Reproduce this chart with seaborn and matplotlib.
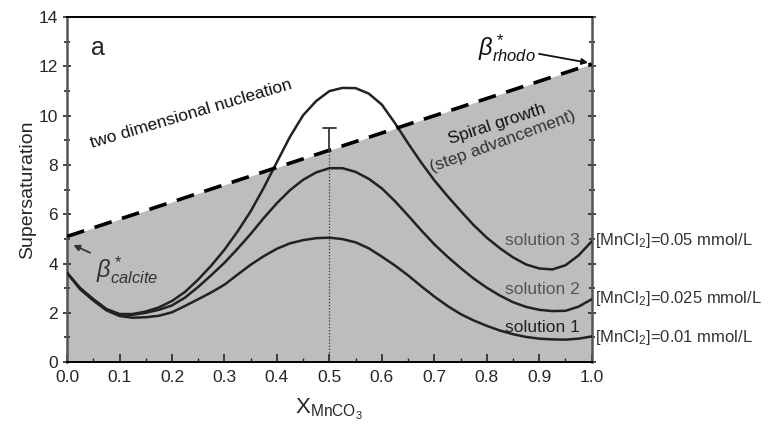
import numpy as np
import pandas as pd
import seaborn as sns
import matplotlib
matplotlib.use("Agg")
import matplotlib.pyplot as plt

# mole fraction of MnCO3 in the solid solution (0 to 1, step 0.025)
x_mnco3 = [round(0.025 * i, 3) for i in range(41)]

# supersaturation curves
solution_1 = [3.62, 2.95, 2.50, 2.10, 1.87, 1.80, 1.82, 1.88, 2.02, 2.28,
              2.55, 2.83, 3.14, 3.55, 3.95, 4.30, 4.60, 4.82, 4.95, 5.03,
              5.05, 4.99, 4.86, 4.62, 4.28, 3.92, 3.52, 3.08, 2.66, 2.28,
              1.95, 1.69, 1.47, 1.28, 1.13, 1.02, 0.95, 0.92, 0.91, 0.95,
              1.04]
solution_2 = [3.62, 3.00, 2.55, 2.15, 1.93, 1.92, 2.00, 2.12, 2.30, 2.62,
              3.05, 3.53, 4.03, 4.60, 5.20, 5.85, 6.45, 6.98, 7.40, 7.70,
              7.87, 7.87, 7.72, 7.44, 7.05, 6.53, 5.95, 5.35, 4.78, 4.28,
              3.82, 3.39, 3.02, 2.70, 2.43, 2.24, 2.12, 2.07, 2.08, 2.25,
              2.55]
solution_3 = [3.62, 3.00, 2.55, 2.15, 1.95, 1.95, 2.05, 2.22, 2.48, 2.85,
              3.35, 3.92, 4.56, 5.30, 6.12, 7.08, 8.12, 9.15, 10.02, 10.60,
              11.00, 11.13, 11.12, 10.90, 10.45, 9.70, 8.88, 8.10, 7.38, 6.74,
              6.14, 5.56, 5.05, 4.62, 4.25, 3.96, 3.80, 3.76, 3.93, 4.33,
              4.90]

solution_names = ["solution 1", "solution 2", "solution 3"]
mncl2_labels = ["[MnCl$_2$]=0.01 mmol/L", "[MnCl$_2$]=0.025 mmol/L",
                "[MnCl$_2$]=0.05 mmol/L"]

# critical supersaturation line: calcite end -> rhodochrosite end
beta_x = [0.0, 1.0]
beta_y = [5.1, 12.1]

# error bar on the critical value at x = 0.5
err_x = 0.5
err_lo, err_hi = 8.55, 9.5

df = pd.DataFrame({
    "x": x_mnco3 * 3,
    "S": solution_1 + solution_2 + solution_3,
    "solution": np.repeat(solution_names, len(x_mnco3)),
})

sns.set_style("ticks")
plt.rcParams["font.family"] = ["Liberation Sans", "DejaVu Sans"]
plt.rcParams["mathtext.fontset"] = "custom"
plt.rcParams["mathtext.rm"] = "Liberation Sans"
plt.rcParams["mathtext.it"] = "Liberation Sans:italic"

fig = plt.figure(figsize=(7.75, 4.3), dpi=100)
ax = fig.add_axes([0.0865, 0.158, 0.677, 0.802])

# shaded spiral-growth region below the critical line
ax.fill_between(beta_x, 0, beta_y, color="#bdbdbd", lw=0, zorder=0)

sns.lineplot(data=df, x="x", y="S", hue="solution", units="solution",
             estimator=None, palette=["#222222"] * 3, lw=1.8, legend=False,
             ax=ax, zorder=3)

sns.lineplot(x=beta_x, y=beta_y, color="black", lw=2.6, ax=ax, zorder=4)
ax.lines[-1].set_dashes([5, 3])

# dotted vertical line and error bar at x = 0.5
ax.plot([err_x, err_x], [0, err_lo], color="#333333", lw=0.9,
        ls=(0, (1, 1.5)), zorder=2)
ax.plot([err_x, err_x], [err_lo, err_hi], color="#333333", lw=1.3, zorder=4)
ax.plot([err_x - 0.012, err_x + 0.012], [err_hi, err_hi], color="#333333",
        lw=1.3, zorder=4)

ax.set_xlim(0, 1.0)
ax.set_ylim(0, 14)
ax.set_xticks(np.arange(0, 1.01, 0.1))
ax.set_xticklabels([f"{v:.1f}" for v in np.arange(0, 1.01, 0.1)])
ax.set_xticks(np.arange(0.05, 1.0, 0.1), minor=True)
ax.set_yticks(np.arange(0, 15, 2))
ax.set_yticks(np.arange(1, 14, 2), minor=True)
ax.tick_params(axis="x", which="major", direction="in", length=6, width=1.2,
               labelsize=12.5, pad=6)
ax.tick_params(axis="x", which="minor", direction="in", length=3, width=1.0)
ax.tick_params(axis="y", which="both", direction="inout", right=True,
               labelsize=12.5, width=1.2)
ax.tick_params(axis="y", which="major", length=6)
ax.tick_params(axis="y", which="minor", length=4)
for side in ["top", "bottom"]:
    ax.spines[side].set_visible(True)
    ax.spines[side].set_color("black")
    ax.spines[side].set_linewidth(1.4)
for side in ["left", "right"]:
    ax.spines[side].set_visible(True)
    ax.spines[side].set_color("#555555")
    ax.spines[side].set_linewidth(1.8)

ax.set_xlabel("X$_{\\mathrm{MnCO_3}}$", fontsize=16, labelpad=8)
ax.set_ylabel("Supersaturation", fontsize=14, labelpad=2)

ax.text(0.045, 12.75, "a", fontsize=18, va="center")
ax.text(0.047, 8.7, "two dimensional nucleation", fontsize=12.5,
        rotation=16.5, rotation_mode="anchor", color="#111111")
ax.text(0.73, 8.85, "Spiral growth", fontsize=12.5, rotation=18,
        rotation_mode="anchor", color="#111111")
ax.text(0.695, 7.7, "(step advancement)", fontsize=12.5, rotation=20,
        rotation_mode="anchor", color="#333333")

ax.annotate("$\\beta^*_{calcite}$", xy=(0.012, 4.75), xytext=(0.055, 3.75),
            fontsize=17, color="#333333", va="center", ha="left",
            arrowprops=dict(arrowstyle="-|>", color="#333333", lw=1.3,
                            shrinkA=2, shrinkB=0, mutation_scale=9))
ax.annotate("$\\beta^*_{rhodo}$", xy=(0.993, 12.15), xytext=(0.783, 12.75),
            fontsize=17, color="#111111", va="center", ha="left",
            arrowprops=dict(arrowstyle="-|>", color="#111111", lw=1.3,
                            shrinkA=0, shrinkB=0, mutation_scale=9))

sol_label_y = [1.4, 2.95, 4.95]
sol_colors = ["#222222", "#555555", "#555555"]
for name, yy, c in zip(solution_names, sol_label_y, sol_colors):
    ax.text(0.978, yy, name, fontsize=12.5, ha="right", va="center", color=c)

mn_label_y = [0.98, 2.6, 4.95]
for lab, yy in zip(mncl2_labels, mn_label_y):
    ax.text(1.006, yy, lab, fontsize=12, ha="left", va="center",
            color="#333333", clip_on=False)

fig.savefig("out.png", dpi=100)
